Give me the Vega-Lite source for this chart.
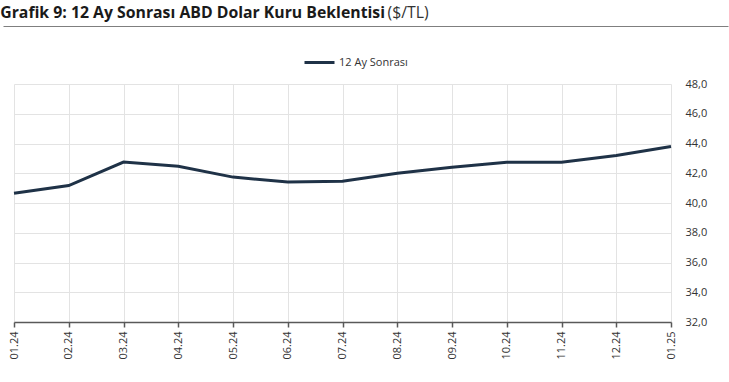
{
  "$schema": "https://vega.github.io/schema/vega-lite/v6.json",
  "padding": {"left": 0, "top": 4, "right": 4, "bottom": 0},
  "background": "white",
  "config": {"font": "Open Sans", "view": {"stroke": null}},
  "spacing": 49,
  "vconcat": [
    {
      "width": 703,
      "height": 1,
      "title": {
        "text": "Grafik 9: 12 Ay Sonrası ABD Dolar Kuru Beklentisi",
        "subtitle": "\u200b\u2003\u2003\u2003\u2003\u2003\u2003\u2003\u2003\u2003\u2003\u2003\u2003\u2003\u2003\u2003\u2003\u2003\u2003\u2003\u2003\u2003\u2003\u2003\u2003\u00a0\u00a0($/TL)",
        "anchor": "start",
        "offset": 1,
        "font": "Open Sans",
        "fontSize": 15.8,
        "fontWeight": "bold",
        "color": "#1a1a1a",
        "subtitleFont": "Open Sans",
        "subtitleFontSize": 15.8,
        "subtitleFontWeight": "normal",
        "subtitleColor": "#333333",
        "subtitlePadding": -15.8
      },
      "data": {"values": [{"v": 0}, {"v": 1}]},
      "mark": {"type": "point", "opacity": 0},
      "encoding": {
        "x": {
          "field": "v",
          "type": "quantitative",
          "scale": {"domain": [0, 1], "range": [-11, 714]},
          "axis": {"title": null, "labels": false, "ticks": false, "grid": false, "domainColor": "#7f7f7f", "domainWidth": 1}
        }
      }
    },
    {
      "width": 657,
      "height": 238,
      "data": {
        "values": [
          {"ay": "01.24", "deger": 40.66, "seri": "12 Ay Sonrası"},
          {"ay": "02.24", "deger": 41.17, "seri": "12 Ay Sonrası"},
          {"ay": "03.24", "deger": 42.75, "seri": "12 Ay Sonrası"},
          {"ay": "04.24", "deger": 42.47, "seri": "12 Ay Sonrası"},
          {"ay": "05.24", "deger": 41.74, "seri": "12 Ay Sonrası"},
          {"ay": "06.24", "deger": 41.41, "seri": "12 Ay Sonrası"},
          {"ay": "07.24", "deger": 41.46, "seri": "12 Ay Sonrası"},
          {"ay": "08.24", "deger": 42.0, "seri": "12 Ay Sonrası"},
          {"ay": "09.24", "deger": 42.4, "seri": "12 Ay Sonrası"},
          {"ay": "10.24", "deger": 42.74, "seri": "12 Ay Sonrası"},
          {"ay": "11.24", "deger": 42.74, "seri": "12 Ay Sonrası"},
          {"ay": "12.24", "deger": 43.2, "seri": "12 Ay Sonrası"},
          {"ay": "01.25", "deger": 43.8, "seri": "12 Ay Sonrası"}
        ]
      },
      "mark": {"type": "line", "strokeWidth": 3},
      "encoding": {
        "x": {
          "field": "ay",
          "type": "ordinal",
          "sort": null,
          "scale": {"type": "point", "padding": 0},
          "axis": {
            "title": null,
            "labelAngle": -90,
            "labelFont": "Open Sans",
            "labelFontSize": 11,
            "labelColor": "#333333",
            "labelPadding": 4,
            "domainColor": "#595959",
            "domainWidth": 1.5,
            "tickColor": "#595959",
            "tickWidth": 1.5,
            "tickSize": 5,
            "grid": true,
            "gridColor": "#e3e3e3",
            "gridWidth": 1
          }
        },
        "y": {
          "field": "deger",
          "type": "quantitative",
          "scale": {"domain": [32, 48], "zero": false},
          "axis": {
            "orient": "right",
            "title": null,
            "values": [32, 34, 36, 38, 40, 42, 44, 46, 48],
            "labelExpr": "replace(format(datum.value, '.1f'), '.', ',')",
            "labelFont": "Open Sans",
            "labelFontSize": 11,
            "labelColor": "#333333",
            "labelPadding": 14,
            "ticks": false,
            "domain": false,
            "grid": true,
            "gridColor": "#e3e3e3",
            "gridWidth": 1
          }
        },
        "color": {
          "field": "seri",
          "type": "nominal",
          "scale": {"range": ["#1f3247"]},
          "legend": {
            "title": null,
            "orient": "none",
            "legendX": 289,
            "legendY": 21,
            "direction": "horizontal",
            "symbolType": "stroke",
            "symbolStrokeWidth": 3,
            "symbolSize": 900,
            "labelFont": "Open Sans",
            "labelFontSize": 11,
            "labelColor": "#333333",
            "labelOffset": 3
          }
        }
      }
    }
  ]
}
